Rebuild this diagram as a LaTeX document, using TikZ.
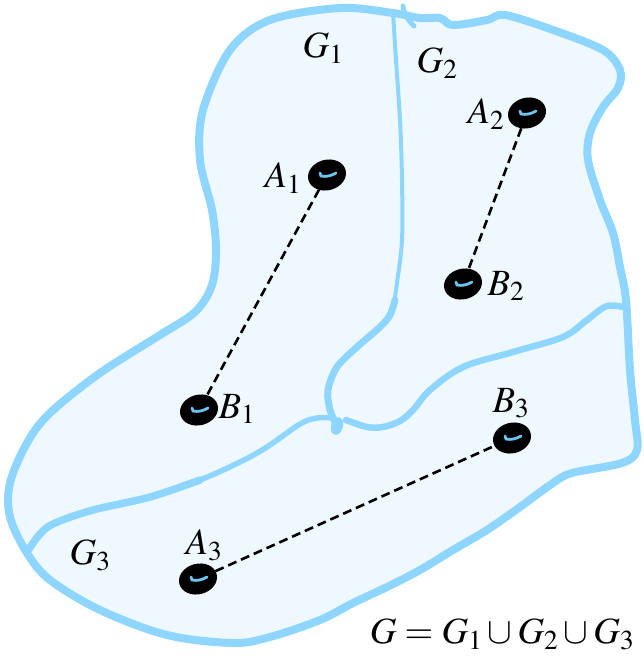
\documentclass[tikz,border=0pt]{standalone}
\usepackage{mathptmx}
\usetikzlibrary{shapes.geometric}
\definecolor{edgec}{RGB}{142,214,255}
\definecolor{fillc}{RGB}{240,248,255}
\definecolor{hlc}{RGB}{110,196,240}
\begin{document}
\begin{tikzpicture}[x=1pt,y=-1pt,
  border/.style={draw=edgec, line join=round, line cap=round},
  lab/.style={font=\fontsize{37}{44}\selectfont, inner sep=0pt},
  blob/.style={ellipse, fill=black, draw=black, line width=1.5pt, minimum width=37pt, minimum height=29pt, inner sep=0pt, rotate=15},
  hl/.style={draw=hlc, line width=2.8pt, line cap=round},
  link/.style={draw=black, line width=2.6pt, dash pattern=on 9pt off 5pt}]
\useasboundingbox (0,0) rectangle (644,656);

% outer region
\draw[border, line width=8pt, fill=fillc] plot[smooth cycle, tension=0.55] coordinates {
 (270,20) (340,8) (393,13) (420,18) (440,18) (453,25) (487,20) (505,15) (553,30)
 (603,50) (620,70) (618,88) (603,107) (590,133) (588,160) (600,200) (613,233)
 (620,267) (626,300) (630,370) (635,420) (637,450) (622,463) (572,473) (553,483)
 (520,507) (487,530) (453,550) (420,570) (387,587) (353,603) (320,620) (270,637)
 (233,643) (167,635) (100,610) (50,580) (27,553) (10,517) (10,483) (27,443)
 (50,413) (100,373) (160,335) (195,312) (212,285) (216,250) (212,210) (200,160)
 (203,110) (230,50)};
% small notch at the top
\draw[border, line width=5pt] (403,6) .. controls (404,14) and (408,20) .. (414,26);

% divider G1 / G2
\draw[border, line width=4pt] plot[smooth, tension=0.55] coordinates {
 (393,12) (396,60) (400,120) (402,180) (402,240) (397,283) (393,310)};
\draw[border, line width=7pt] plot[smooth, tension=0.55] coordinates {
 (395,300) (390,315) (380,327) (357,347) (337,367) (328,390) (330,410) (336,424)};
\fill[edgec, rotate around={-15:(337,426)}] (337,426) ellipse (6 and 9);

% divider G1 / G3
\draw[border, line width=7.5pt] plot[smooth, tension=0.55] coordinates {
 (27,552) (40,534) (55,523) (93,510) (150,497) (200,480)};
\draw[border, line width=5.5pt] plot[smooth, tension=0.55] coordinates {
 (150,497) (200,480) (240,462) (267,447) (300,424) (317,418) (334,418)};

% divider G2 / G3
\draw[border, line width=6.5pt] plot[smooth, tension=0.55] coordinates {
 (346,420) (367,427) (383,427) (400,421) (413,410) (430,390) (463,367)
 (513,352) (563,337) (587,320) (607,306) (627,308)};

% points
\node[blob] (a1) at (327,175) {};
\node[blob] (b1) at (199,410) {};
\node[blob] (a2) at (527,113) {};
\node[blob] (b2) at (463,284) {};
\node[blob] (a3) at (198,579) {};
\node[blob] (b3) at (512,438) {};

\foreach \n in {a1,b1,a2,b2,a3,b3}{
  \draw[hl] ([shift={(-7,-2)}]\n.center) -- ([shift={(-6,1)}]\n.center)
    .. controls ([shift={(-1,2)}]\n.center) and ([shift={(4,1)}]\n.center) .. ([shift={(9,-2)}]\n.center);
}

% dashed connections
\draw[link] (a1) -- (b1);
\draw[link] (a2) -- (b2);
\draw[link] (a3) -- (b3);

% labels
\node[lab] (g1) at (323,48) {$G_1$};
\node[lab] (g2) at (437,63) {$G_2$};
\node[lab] (g3) at (90,555) {$G_3$};
\node[lab] (la1) at (283,178) {$A_1$};
\node[lab] (lb1) at (237,409) {$B_1$};
\node[lab] (la2) at (486,114) {$A_2$};
\node[lab] (lb2) at (506,286) {$B_2$};
\node[lab] (la3) at (204,545) {$A_3$};
\node[lab] (lb3) at (511,403) {$B_3$};
\node[lab] (eq) at (502,634) {$G = G_1 \cup G_2 \cup G_3$};
\end{tikzpicture}
\end{document}
